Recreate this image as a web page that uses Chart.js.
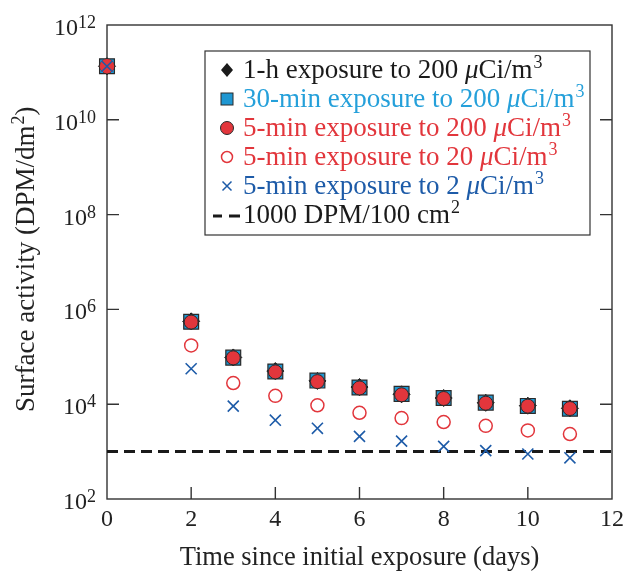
<!DOCTYPE html>
<html><head><meta charset="utf-8">
<script src="https://cdn.jsdelivr.net/npm/chart.js@4.4.1/dist/chart.umd.min.js"></script>
<style>html,body{margin:0;padding:0;background:#fff}#wrap{width:630px;height:574px}</style>
</head><body><div id="wrap"><canvas id="c" width="630" height="574"></canvas></div>
<script>
// ---- data ----
const days = [0, 2, 3, 4, 5, 6, 7, 8, 9, 10, 11];
const oneHour200   = [1.35e11, 5.6e5, 9.7e4, 5.0e4, 3.1e4, 2.3e4, 1.62e4, 1.35e4, 1.07e4, 9.3e3, 8.2e3];
const thirtyMin200 = [1.35e11, 5.5e5, 9.6e4, 4.9e4, 3.15e4, 2.25e4, 1.65e4, 1.35e4, 1.08e4, 9.2e3, 8.0e3];
const fiveMin200   = [1.35e11, 5.4e5, 9.5e4, 4.8e4, 3.0e4, 2.2e4, 1.58e4, 1.32e4, 1.05e4, 9.1e3, 8.1e3];
const fiveMin20    = [1.35e11, 1.74e5, 2.8e4, 1.5e4, 9.5e3, 6.6e3, 5.1e3, 4.2e3, 3.5e3, 2.8e3, 2.35e3];
const fiveMin2     = [1.35e11, 5.6e4, 9.1e3, 4.6e3, 3.1e3, 2.1e3, 1.66e3, 1.29e3, 1.05e3, 890, 740];
const limitValue = 1000;
const limitRange = [0, 12];
const xTickValues = [0, 2, 4, 6, 8, 10, 12];
const yTickExponents = [2, 4, 6, 8, 10, 12];
const seriesLabels = [
  '1-h exposure to 200 μCi/m³',
  '30-min exposure to 200 μCi/m³',
  '5-min exposure to 200 μCi/m³',
  '5-min exposure to 20 μCi/m³',
  '5-min exposure to 2 μCi/m³',
  '1000 DPM/100 cm²'
];
const xTitle = 'Time since initial exposure (days)';
const yTitle = 'Surface activity (DPM/dm²)';

const FONT = '"Liberation Serif", "Times New Roman", serif';
const C = {
  black: '#1a1a1a', cyan: '#25a0da', red: '#e2363c', navy: '#1d5ba8', frame: '#333333'
};
const textColors = [C.black, C.cyan, C.red, C.red, C.navy, C.black];

const pts = arr => days.map((d, i) => ({x: d, y: arr[i]}));

const ds = [
  {label: seriesLabels[0], data: pts(oneHour200), pointStyle: 'rectRot', pointRadius: 8.5,
   backgroundColor: C.black, borderColor: C.black, borderWidth: 1, order: 6},
  {label: seriesLabels[1], data: pts(thirtyMin200), pointStyle: 'rect', pointRadius: 10.5,
   backgroundColor: '#1f97d2', borderColor: '#2a2a2a', borderWidth: 1.2, order: 5},
  {label: seriesLabels[2], data: pts(fiveMin200), pointStyle: 'circle', pointRadius: 7,
   backgroundColor: C.red, borderColor: '#2a2a2a', borderWidth: 1, order: 4},
  {label: seriesLabels[3], data: pts(fiveMin20), pointStyle: 'circle', pointRadius: 6.5,
   backgroundColor: 'rgba(0,0,0,0)', borderColor: C.red, borderWidth: 1.5, order: 3},
  {label: seriesLabels[4], data: pts(fiveMin2), pointStyle: 'crossRot', pointRadius: 7.8,
   backgroundColor: C.navy, borderColor: C.navy, borderWidth: 1.6, order: 2},
  {label: seriesLabels[5], data: limitRange.map(x => ({x, y: limitValue})), showLine: true,
   pointRadius: 0, borderColor: C.black, borderWidth: 3, borderDash: [11, 6], order: 7}
];
ds.forEach(d => { d.clip = false; d.pointHoverRadius = d.pointRadius; });

// draws text left-to-right from (x, baseline) in the current transform; μ italic, ²/³ superscript
function drawRichText(ctx, str, x, baseline, size, color) {
  let cx = x;
  ctx.fillStyle = color;
  ctx.textAlign = 'left';
  ctx.textBaseline = 'alphabetic';
  for (const ch of str) {
    if (ch === '³' || ch === '²') {
      ctx.font = Math.round(size * 0.68) + 'px ' + FONT;
      const s = ch === '³' ? '3' : '2';
      ctx.fillText(s, cx + 1, baseline - size * 0.38);
      cx += ctx.measureText(s).width + 1;
    } else if (ch === 'μ') {
      ctx.font = 'italic ' + size + 'px ' + FONT;
      ctx.fillText(ch, cx, baseline);
      cx += ctx.measureText(ch).width;
    } else {
      ctx.font = size + 'px ' + FONT;
      ctx.fillText(ch, cx, baseline);
      cx += ctx.measureText(ch).width;
    }
  }
  return cx - x;
}

const framePlugin = {
  id: 'frame',
  beforeDatasetsDraw(chart) {
    const {ctx, chartArea: a, scales: {x, y}} = chart;
    ctx.save();
    ctx.strokeStyle = C.frame;
    ctx.lineWidth = 1.4;
    ctx.strokeRect(a.left, a.top, a.right - a.left, a.bottom - a.top);
    const TL = 12;
    ctx.beginPath();
    yTickExponents.forEach(e => {
      const py = y.getPixelForValue(Math.pow(10, e));
      if (py > a.top + 1 && py < a.bottom - 1) {
        ctx.moveTo(a.left, py); ctx.lineTo(a.left + TL, py);
        ctx.moveTo(a.right, py); ctx.lineTo(a.right - TL, py);
      }
    });
    xTickValues.forEach(v => {
      const px = x.getPixelForValue(v);
      if (px > a.left + 1 && px < a.right - 1) {
        ctx.moveTo(px, a.bottom); ctx.lineTo(px, a.bottom - TL);
      }
    });
    ctx.stroke();
    // y tick labels 10^n
    ctx.fillStyle = '#222';
    yTickExponents.forEach(e => {
      const py = y.getPixelForValue(Math.pow(10, e));
      const sup = String(e);
      ctx.font = '18px ' + FONT;
      const ws = ctx.measureText(sup).width;
      const right = a.left - 11;
      ctx.textAlign = 'left'; ctx.textBaseline = 'alphabetic';
      ctx.fillText(sup, right - ws, py + 3);
      ctx.font = '24px ' + FONT;
      ctx.textAlign = 'right';
      ctx.fillText('10', right - ws, py + 10);
    });
    // y axis title, rotated
    ctx.save();
    ctx.translate(34, 412);
    ctx.rotate(-Math.PI / 2);
    drawRichText(ctx, yTitle, 0, 0, 27, '#222');
    ctx.restore();
    ctx.restore();
  },
  afterDraw(chart) {
    const ctx = chart.ctx;
    ctx.save();
    const bx = 205, by = 51, bw = 385, bh = 184;
    ctx.fillStyle = '#fff';
    ctx.fillRect(bx, by, bw, bh);
    ctx.strokeStyle = C.frame; ctx.lineWidth = 1.2;
    ctx.strokeRect(bx, by, bw, bh);
    const sx = 227, tx = 243;
    seriesLabels.forEach((lab, i) => {
      const base = 78 + 29 * i;
      const cy = base - 8;
      ctx.save();
      if (i === 0) {
        ctx.fillStyle = C.black; ctx.beginPath();
        ctx.moveTo(sx, cy - 7); ctx.lineTo(sx + 6, cy); ctx.lineTo(sx, cy + 7); ctx.lineTo(sx - 6, cy);
        ctx.closePath(); ctx.fill();
      } else if (i === 1) {
        ctx.fillStyle = '#1f97d2'; ctx.strokeStyle = '#2a2a2a'; ctx.lineWidth = 1;
        ctx.fillRect(sx - 6, cy - 6, 12, 12); ctx.strokeRect(sx - 6, cy - 6, 12, 12);
      } else if (i === 2) {
        ctx.fillStyle = C.red; ctx.strokeStyle = '#2a2a2a'; ctx.lineWidth = 1;
        ctx.beginPath(); ctx.arc(sx, cy, 6.5, 0, Math.PI * 2); ctx.fill(); ctx.stroke();
      } else if (i === 3) {
        ctx.strokeStyle = C.red; ctx.lineWidth = 1.5;
        ctx.beginPath(); ctx.arc(sx, cy, 5.5, 0, Math.PI * 2); ctx.stroke();
      } else if (i === 4) {
        ctx.strokeStyle = C.navy; ctx.lineWidth = 1.5;
        ctx.beginPath();
        ctx.moveTo(sx - 4.5, cy - 4.5); ctx.lineTo(sx + 4.5, cy + 4.5);
        ctx.moveTo(sx + 4.5, cy - 4.5); ctx.lineTo(sx - 4.5, cy + 4.5);
        ctx.stroke();
      } else {
        ctx.strokeStyle = C.black; ctx.lineWidth = 3;
        ctx.beginPath();
        ctx.moveTo(213, cy + 1); ctx.lineTo(222, cy + 1);
        ctx.moveTo(229, cy + 1); ctx.lineTo(240, cy + 1);
        ctx.stroke();
      }
      ctx.restore();
      drawRichText(ctx, lab, tx, base, 27, textColors[i]);
    });
    ctx.restore();
  }
};

new Chart(document.getElementById('c'), {
  type: 'scatter',
  data: {datasets: ds},
  options: {
    responsive: false,
    animation: false,
    events: [],
    layout: {padding: {left: 0, top: 25, right: 16, bottom: 0}},
    plugins: {legend: {display: false}, tooltip: {enabled: false}},
    scales: {
      x: {
        type: 'linear', min: 0, max: 12,
        afterBuildTicks: s => { s.ticks = xTickValues.map(v => ({value: v})); },
        afterFit: s => { s.height = 75; },
        grid: {display: false, drawTicks: false, tickLength: 0},
        border: {display: false},
        ticks: {font: {family: FONT, size: 24}, color: '#222', padding: 6, maxRotation: 0, autoSkip: false},
        title: {display: true, text: xTitle, font: {family: FONT, size: 26.5}, color: '#222', padding: {top: 0, bottom: 0}}
      },
      y: {
        type: 'logarithmic', min: 100, max: 1e12,
        afterBuildTicks: s => { s.ticks = yTickExponents.map(e => ({value: Math.pow(10, e)})); },
        afterFit: s => { s.width = 107; },
        grid: {display: false, drawTicks: false},
        border: {display: false},
        ticks: {display: false},
        title: {display: false, text: yTitle}
      }
    }
  },
  plugins: [framePlugin]
});
</script>
</body></html>
